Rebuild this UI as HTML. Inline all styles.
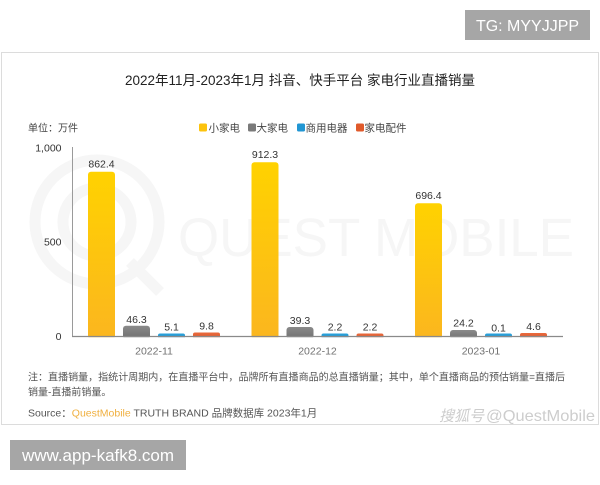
<!DOCTYPE html>
<html><head><meta charset="utf-8">
<style>
html,body{margin:0;padding:0;background:#fff;}
body{width:600px;height:480px;overflow:hidden;position:relative;font-family:"Liberation Sans","Noto Sans CJK SC",sans-serif;}
svg text{font-family:"Liberation Sans","Noto Sans CJK SC",sans-serif;}
</style></head>
<body>
<svg width="600" height="480" viewBox="0 0 600 480" xmlns="http://www.w3.org/2000/svg">
<defs>
<linearGradient id="gy" x1="0" y1="0" x2="0" y2="1"><stop offset="0" stop-color="#ffd200"/><stop offset="1" stop-color="#fbb61f"/></linearGradient>
<linearGradient id="gg" x1="0" y1="0" x2="0" y2="1"><stop offset="0" stop-color="#8a8a8a"/><stop offset="1" stop-color="#6f6f6f"/></linearGradient>
<linearGradient id="gb" x1="0" y1="0" x2="0" y2="1"><stop offset="0" stop-color="#2aa3dc"/><stop offset="1" stop-color="#1c8cc8"/></linearGradient>
<linearGradient id="gr" x1="0" y1="0" x2="0" y2="1"><stop offset="0" stop-color="#ea6a3c"/><stop offset="1" stop-color="#d9532a"/></linearGradient>
</defs>

<!-- TG box -->
<rect x="465" y="10" width="125" height="30" fill="#a6a6a6"/>
<text x="527.5" y="31" font-size="16" fill="#fff" text-anchor="middle">TG: MYYJJPP</text>

<!-- card -->
<rect x="1.5" y="52.5" width="597" height="372" fill="#fff" stroke="#dcdcdc" stroke-width="1"/>

<!-- watermark -->
<g fill="none" stroke="#f6f6f6" stroke-width="11">
<circle cx="97" cy="222" r="62"/>
<circle cx="97" cy="222" r="34"/>
</g>
<path d="M130 262 L160 292" stroke="#f6f6f6" stroke-width="11"/>
<text x="178" y="256" font-size="54" fill="#f6f6f6" textLength="396" lengthAdjust="spacingAndGlyphs">QUEST MOBILE</text>

<!-- title -->
<text x="300" y="85" font-size="13.5" fill="#222" text-anchor="middle">2022年11月-2023年1月 抖音、快手平台 家电行业直播销量</text>

<!-- unit & legend -->
<text x="28" y="131.5" font-size="10" fill="#444">单位：万件</text>
<rect x="199" y="123.5" width="8" height="8" rx="1.5" fill="#fcc30d"/>
<text x="208.5" y="131.5" font-size="10.5" fill="#444">小家电</text>
<rect x="248" y="123.5" width="8" height="8" rx="1.5" fill="#7a7a7a"/>
<text x="256.5" y="131.5" font-size="10.5" fill="#444">大家电</text>
<rect x="297" y="123.5" width="8" height="8" rx="1.5" fill="#2196d3"/>
<text x="305.5" y="131.5" font-size="10.5" fill="#444">商用电器</text>
<rect x="356" y="123.5" width="8" height="8" rx="1.5" fill="#e05a2b"/>
<text x="364.5" y="131.5" font-size="10.5" fill="#444">家电配件</text>

<!-- y axis -->
<line x1="72.5" y1="147" x2="72.5" y2="336.5" stroke="#9a9a9a" stroke-width="1"/>
<g font-size="10.5" fill="#333" text-anchor="end">
<text x="61.5" y="151.5">1,000</text>
<text x="61.5" y="245.5">500</text>
<text x="61.5" y="340">0</text>
</g>

<!-- bars group 1 -->
<g>
<rect x="88" y="171.8" width="27" height="167" rx="3" fill="url(#gy)"/>
<rect x="123" y="325.7" width="27" height="13" rx="3" fill="url(#gg)"/>
<rect x="158" y="333.5" width="27" height="6" rx="2" fill="url(#gb)"/>
<rect x="193" y="332.5" width="27" height="7" rx="2" fill="url(#gr)"/>
</g>
<!-- group 2 -->
<g>
<rect x="251.5" y="162.3" width="27" height="177" rx="3" fill="url(#gy)"/>
<rect x="286.5" y="327" width="27" height="12" rx="3" fill="url(#gg)"/>
<rect x="321.5" y="333.5" width="27" height="6" rx="2" fill="url(#gb)"/>
<rect x="356.5" y="333.5" width="27" height="6" rx="2" fill="url(#gr)"/>
</g>
<!-- group 3 -->
<g>
<rect x="415" y="203.3" width="27" height="136" rx="3" fill="url(#gy)"/>
<rect x="450" y="330" width="27" height="9" rx="3" fill="url(#gg)"/>
<rect x="485" y="333.5" width="27" height="6" rx="2" fill="url(#gb)"/>
<rect x="520" y="333" width="27" height="6" rx="2" fill="url(#gr)"/>
</g>
<!-- cover below baseline -->
<rect x="73" y="337.2" width="490" height="4" fill="#fff"/>
<line x1="72" y1="336.5" x2="563" y2="336.5" stroke="#8a8a8a" stroke-width="1.2"/>

<!-- value labels -->
<g font-size="10.5" fill="#333" text-anchor="middle">
<text x="101.5" y="167.5">862.4</text>
<text x="136.5" y="323">46.3</text>
<text x="171.5" y="330.5">5.1</text>
<text x="206.5" y="329.5">9.8</text>

<text x="265" y="158">912.3</text>
<text x="300" y="324">39.3</text>
<text x="335" y="330.5">2.2</text>
<text x="370" y="330.5">2.2</text>

<text x="428.5" y="199">696.4</text>
<text x="463.5" y="326.5">24.2</text>
<text x="498.5" y="331.5">0.1</text>
<text x="533.5" y="330">4.6</text>
</g>

<!-- x labels -->
<g font-size="10.5" fill="#707070" text-anchor="middle">
<text x="154" y="354.5">2022-11</text>
<text x="317.5" y="354.5">2022-12</text>
<text x="481" y="354.5">2023-01</text>
</g>

<!-- notes -->
<text x="28" y="380.5" font-size="10" fill="#555" textLength="537" lengthAdjust="spacingAndGlyphs">注：直播销量，指统计周期内，在直播平台中，品牌所有直播商品的总直播销量；其中，单个直播商品的预估销量=直播后</text>
<text x="28" y="395.5" font-size="10" fill="#555">销量-直播前销量。</text>
<text x="28" y="416.5" font-size="10.5" fill="#555">Source：<tspan fill="#f0b040">QuestMobile</tspan> TRUTH BRAND 品牌数据库 2023年1月</text>

<!-- sohu watermark -->
<text x="439" y="421" font-size="15" fill="#cdcdcd" font-style="italic">搜狐号</text>
<text x="486" y="421" font-size="16" fill="#cdcdcd" textLength="109" lengthAdjust="spacingAndGlyphs">@QuestMobile</text>

<!-- www box -->
<rect x="10" y="440" width="176" height="30" fill="#a6a6a6"/>
<text x="98" y="461" font-size="17" fill="#fff" text-anchor="middle">www.app-kafk8.com</text>
</svg>
</body></html>
